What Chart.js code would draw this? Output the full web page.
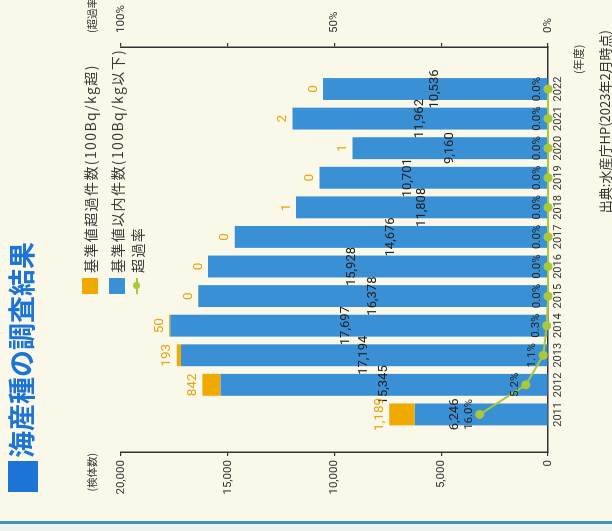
<!DOCTYPE html>
<html lang="ja">
<head>
<meta charset="utf-8">
<title>海産種の調査結果</title>
<script src="https://cdn.jsdelivr.net/npm/chart.js@4.4.1/dist/chart.umd.min.js"></script>
<style>
    html, body { margin: 0; padding: 0; }
    body {
        width: 612px; height: 531px; overflow: hidden; position: relative;
        background: #faf8e8;
        font-family: "Noto Sans CJK JP", "Noto Sans", sans-serif;
        color: #333;
    }
    .rule { position: absolute; left: 0; top: 521px; width: 612px; height: 3px; background: #3f95b5; }
    .band { position: absolute; left: 0; top: 524px; width: 612px; height: 7px; background: #edf3ef; }

    /* the graphic is laid out upright, then turned a quarter turn to the left */
    .page {
        position: absolute; left: 0; top: 0; width: 531px; height: 612px;
        transform-origin: 0 0; transform: translate(0, 531px) rotate(-90deg);
    }
    .page canvas { position: absolute; left: 0; top: 0; }
    .title {
        position: absolute; left: 39px; top: 5px; white-space: nowrap;
        font-size: 27px; line-height: 32px; font-weight: 700; color: #1b74d6;
    }
    .title .mark { display: inline-block; width: 31px; height: 30px; background: #1b74d6; vertical-align: -6px; margin-right: 3px; }
    .legend { position: absolute; left: 237px; top: 82px; font-size: 14px; letter-spacing: 1.4px; white-space: nowrap; color: #3a3a3a; }
    .legend .item { position: absolute; left: 0; display: flex; align-items: center; height: 16px; }
    .legend .swatch { width: 16px; height: 16px; margin-right: 5px; }
    .legend .lineswatch { position: relative; width: 16px; height: 16px; margin-right: 5px; }
    .legend .lineswatch::before { content: ""; position: absolute; left: 0; right: 0; top: 7px; height: 2px; background: #a9c83a; }
    .legend .lineswatch::after { content: ""; position: absolute; left: 5px; top: 4px; width: 7px; height: 7px; border-radius: 50%; background: #a9c83a; }
    .axis-note { position: absolute; font-size: 10.5px; line-height: 14px; white-space: nowrap; }
    .source { position: absolute; right: 30px; top: 595px; font-size: 13px; white-space: nowrap; }
</style>
</head>
<body>
<div class="rule"></div>
<div class="band"></div>
<div class="page">
    <canvas id="surveyChart" width="531" height="612"></canvas>
    <div class="title"><span class="mark"></span>海産種の調査結果</div>
    <div class="legend" id="legend"></div>
    <div class="axis-note" style="right: 453px; top: 85px;">(検体数)</div>
    <div class="axis-note" style="left: 498px; top: 85px;">(超過率)</div>
    <div class="axis-note" style="left: 457px; top: 571px; font-size: 11px;">(年度)</div>
    <div class="source">出典:水産庁HP(2023年2月時点)</div>
</div>
<script>
// Survey results, marine species
const years = [2011, 2012, 2013, 2014, 2015, 2016, 2017, 2018, 2019, 2020, 2021, 2022];
const withinCounts = [6246, 15345, 17194, 17697, 16378, 15928, 14676, 11808, 10701, 9160, 11962, 10536];
const overCounts = [1189, 842, 193, 50, 0, 0, 0, 1, 0, 1, 2, 0];
const overRate = [16.0, 5.2, 1.1, 0.3, 0.0, 0.0, 0.0, 0.0, 0.0, 0.0, 0.0, 0.0];
const countTicks = [0, 5000, 10000, 15000, 20000];
const rateTicks = [0, 25, 50, 75, 100];
const rateLabelled = [0, 50, 100];

const seriesNames = ['基準値超過件数(100Bq/kg超)', '基準値以内件数(100Bq/kg以下)', '超過率'];
const BLUE = '#3a90d4';
const ORANGE = '#efa900';
const GREEN = '#a9c83a';
const INK = '#222';
const numFont = '"Liberation Sans Narrow", "Arial Narrow", Roboto, sans-serif';

// Legend (drawn as text beside the chart)
function buildLegend() {
    const legend = document.getElementById('legend');
    const rows = [
        { name: seriesNames[0], color: ORANGE, top: 0 },
        { name: seriesNames[1], color: BLUE, top: 27 },
        { name: seriesNames[2], color: null, top: 47 }
    ];
    legend.innerHTML = rows.map(row => `
        <div class="item" style="top:${row.top}px">
            ${row.color ? `<span class="swatch" style="background:${row.color}"></span>` : '<span class="lineswatch"></span>'}
            <span>${row.name}</span>
        </div>
    `).join('');
}

function overlaps(a, b) {
    return a.x1 < b.x2 && b.x1 < a.x2 && a.y1 < b.y2 && b.y1 < a.y2;
}

// Value labels on the bars and the rate line
const valueLabels = {
    id: 'valueLabels',
    afterDatasetsDraw(chart) {
        const ctx = chart.ctx;
        const within = chart.getDatasetMeta(0).data;
        const over = chart.getDatasetMeta(1).data;
        const rate = chart.getDatasetMeta(2).data;
        const placed = [];
        ctx.save();
        ctx.textAlign = 'center';
        ctx.textBaseline = 'middle';

        // rate labels sit just above each point
        ctx.font = '11.5px ' + numFont;
        ctx.fillStyle = INK;
        rate.forEach((pt, i) => {
            const text = overRate[i].toFixed(1) + '%';
            const w = ctx.measureText(text).width;
            const y = pt.y - 11;
            ctx.fillText(text, pt.x, y);
            placed.push({ x1: pt.x - w / 2, x2: pt.x + w / 2, y1: y - 6, y2: y + 6 });
            placed.push({ x1: pt.x - 5, x2: pt.x + 5, y1: pt.y - 5, y2: pt.y + 5 });
        });

        // counts inside the blue bars, nudged apart so neighbours do not collide
        ctx.font = '13px ' + numFont;
        within.forEach((bar, i) => {
            const text = withinCounts[i].toLocaleString('en-US');
            const w = ctx.measureText(text).width;
            const mid = (bar.y + bar.base) / 2;
            const shifts = [0, -13, -26, 13, 26, -39, 39, -52];
            let box = null;
            let y = mid;
            for (const s of shifts) {
                y = mid + s;
                box = { x1: bar.x - w / 2, x2: bar.x + w / 2, y1: y - 6, y2: y + 6 };
                if (!placed.some(p => overlaps(p, box))) break;
            }
            ctx.fillText(text, bar.x, y);
            placed.push(box);
        });

        // exceeding counts above the stacked bars
        ctx.font = '13.5px ' + numFont;
        ctx.fillStyle = '#e9a30c';
        ctx.textBaseline = 'bottom';
        over.forEach((bar, i) => {
            ctx.fillText(overCounts[i].toLocaleString('en-US'), bar.x, bar.y - 3);
        });
        ctx.restore();
    }
};

function initChart() {
    const ctx = document.getElementById('surveyChart');
    Chart.defaults.font.family = numFont;
    Chart.defaults.color = '#333';

    new Chart(ctx, {
        type: 'bar',
        data: {
            datasets: [{
                label: seriesNames[1],
                data: years.map((y, i) => ({ x: y, y: withinCounts[i] })),
                backgroundColor: BLUE,
                yAxisID: 'y',
                stack: 'count',
                order: 1
            }, {
                label: seriesNames[0],
                data: years.map((y, i) => ({ x: y, y: overCounts[i] })),
                backgroundColor: ORANGE,
                yAxisID: 'y',
                stack: 'count',
                order: 1
            }, {
                type: 'line',
                label: seriesNames[2],
                data: years.map((y, i) => ({ x: y, y: overRate[i] })),
                borderColor: GREEN,
                backgroundColor: GREEN,
                borderWidth: 2,
                pointRadius: 4.5,
                pointBorderWidth: 0,
                pointBackgroundColor: GREEN,
                yAxisID: 'y1',
                clip: false,
                order: 0
            }]
        },
        options: {
            responsive: false,
            animation: false,
            devicePixelRatio: 1,
            events: [],
            barPercentage: 0.74,
            categoryPercentage: 1,
            layout: { padding: { top: 121, left: 0, right: 0, bottom: 0 } },
            plugins: {
                legend: { display: false },
                tooltip: { enabled: false }
            },
            scales: {
                x: {
                    type: 'linear',
                    min: 2010.3,
                    max: 2022.85,
                    afterBuildTicks: scale => { scale.ticks = years.map(v => ({ value: v })); },
                    afterFit: scale => { scale.height = 64; },
                    grid: { display: false, drawTicks: false },
                    border: { display: true, color: '#333', width: 1.5 },
                    ticks: {
                        padding: 4,
                        maxRotation: 0,
                        autoSkip: false,
                        font: { size: 11 },
                        callback: value => String(value)
                    }
                },
                y: {
                    position: 'left',
                    stacked: true,
                    min: 0,
                    max: 20000,
                    afterBuildTicks: scale => { scale.ticks = countTicks.map(v => ({ value: v })); },
                    afterFit: scale => { scale.width = 79; },
                    grid: { drawOnChartArea: false, drawTicks: true, tickLength: 4, color: '#333', lineWidth: 1.2 },
                    border: { display: true, color: '#333', width: 1.5 },
                    ticks: {
                        padding: 4,
                        font: { size: 11.5 },
                        callback: value => value.toLocaleString('en-US')
                    }
                },
                y1: {
                    position: 'right',
                    min: 0,
                    max: 100,
                    afterBuildTicks: scale => { scale.ticks = rateTicks.map(v => ({ value: v })); },
                    afterFit: scale => { scale.width = 47; },
                    grid: { drawOnChartArea: false, drawTicks: true, tickLength: 4, color: '#333', lineWidth: 1.2 },
                    border: { display: true, color: '#333', width: 1.5 },
                    ticks: {
                        padding: 10,
                        font: { size: 11.5 },
                        callback: value => rateLabelled.includes(value) ? value + '%' : ''
                    }
                }
            }
        },
        plugins: [valueLabels]
    });
}

buildLegend();
initChart();
</script>
</body>
</html>
